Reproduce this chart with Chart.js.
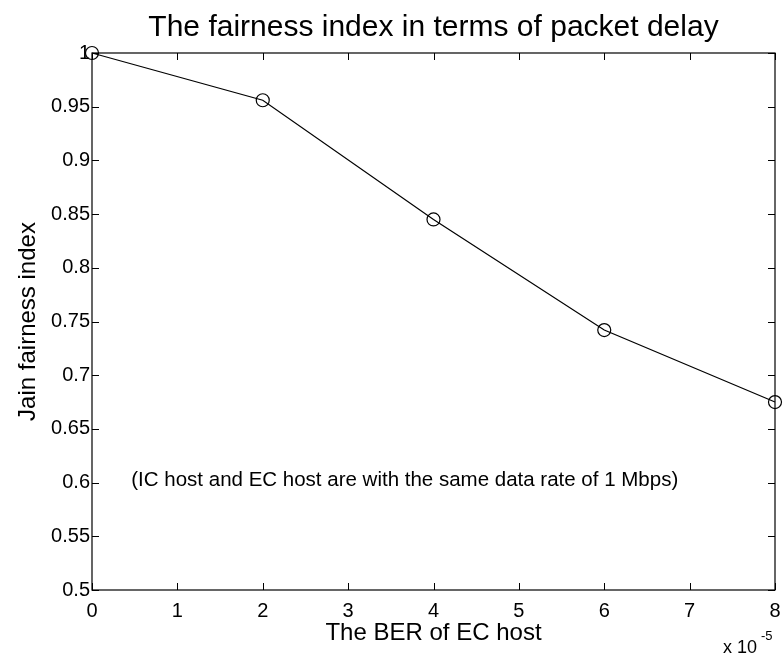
<!DOCTYPE html>
<html>
<head>
<meta charset="utf-8">
<script src="https://cdn.jsdelivr.net/npm/chart.js@4.4.1/dist/chart.umd.min.js"></script>
<style>
  html, body { margin: 0; padding: 0; background: #fff; }
  canvas { display: block; }
</style>
</head>
<body>
<canvas id="chart" width="783" height="655"></canvas>
<script>
// data
const berValues = [0, 2, 4, 6, 8];               // x 10^-5
const fairness = [1.0, 0.956, 0.845, 0.742, 0.675];

const xTicks = [0, 1, 2, 3, 4, 5, 6, 7, 8];
const yTicks = [0.5, 0.55, 0.6, 0.65, 0.7, 0.75, 0.8, 0.85, 0.9, 0.95, 1];

const FONT = '"Liberation Sans", Arial, Helvetica, sans-serif';
Chart.defaults.font.family = FONT;
Chart.defaults.color = '#000';

// box round the plot with inward ticks on all four sides (matlab style)
const frameTicks = {
    id: 'frameTicks',
    beforeDatasetsDraw(chart) {
        const { ctx, chartArea: a, scales: { x, y } } = chart;
        const len = 7;
        ctx.save();
        ctx.strokeStyle = '#000';
        ctx.lineWidth = 1.2;
        ctx.strokeRect(a.left, a.top, a.right - a.left, a.bottom - a.top);
        ctx.lineWidth = 1;
        ctx.beginPath();
        xTicks.forEach(v => {
            const px = Math.round(x.getPixelForValue(v)) + 0.5;
            ctx.moveTo(px, a.bottom); ctx.lineTo(px, a.bottom - len);
            ctx.moveTo(px, a.top); ctx.lineTo(px, a.top + len);
        });
        yTicks.forEach(v => {
            const py = Math.round(y.getPixelForValue(v)) + 0.5;
            ctx.moveTo(a.left, py); ctx.lineTo(a.left + len, py);
            ctx.moveTo(a.right, py); ctx.lineTo(a.right - len, py);
        });
        ctx.stroke();
        ctx.restore();
    }
};

// note inside the axes and the x-axis multiplier
const notes = {
    id: 'notes',
    afterDraw(chart) {
        const { ctx, scales: { x, y } } = chart;
        ctx.save();
        ctx.fillStyle = '#000';
        ctx.font = '20.5px ' + FONT;
        ctx.textAlign = 'left';
        ctx.textBaseline = 'middle';
        ctx.fillText('(IC host and EC host are with the same data rate of 1 Mbps)',
            x.getPixelForValue(0.46), y.getPixelForValue(0.602));

        ctx.textBaseline = 'alphabetic';
        ctx.font = '18px ' + FONT;
        ctx.fillText('x 10', 723, 653);
        ctx.font = '13px ' + FONT;
        ctx.fillText('-5', 761, 640);
        ctx.restore();
    }
};

new Chart(document.getElementById('chart'), {
    type: 'line',
    data: {
        datasets: [{
            data: berValues.map((b, i) => ({ x: b, y: fairness[i] })),
            borderColor: '#000',
            borderWidth: 1.2,
            backgroundColor: 'transparent',
            pointStyle: 'circle',
            pointRadius: 6.5,
            pointHoverRadius: 6.5,
            pointBorderWidth: 1.2,
            pointBorderColor: '#000',
            pointBackgroundColor: 'transparent',
            tension: 0,
            clip: false
        }]
    },
    options: {
        responsive: false,
        animation: false,
        events: [],
        layout: { padding: { left: 0, right: 8, top: 0, bottom: 0 } },
        plugins: {
            legend: { display: false },
            tooltip: { enabled: false },
            title: {
                display: true,
                fullSize: false,
                text: 'The fairness index in terms of packet delay',
                font: { size: 30, weight: 'normal' },
                color: '#000',
                padding: { top: 10, bottom: 7 }
            }
        },
        scales: {
            x: {
                type: 'linear',
                min: 0,
                max: 8,
                afterBuildTicks: s => { s.ticks = xTicks.map(v => ({ value: v })); },
                afterFit: s => { s.height = 65; s.paddingLeft = 0; s.paddingRight = 0; },
                grid: { display: false, drawTicks: false },
                border: { display: false },
                ticks: { font: { size: 20 }, padding: 9, maxRotation: 0, callback: v => String(v) },
                title: {
                    display: true,
                    text: 'The BER of EC host',
                    font: { size: 24 },
                    padding: { top: 0, bottom: 7 }
                }
            },
            y: {
                type: 'linear',
                min: 0.5,
                max: 1,
                afterBuildTicks: s => { s.ticks = yTicks.map(v => ({ value: v })); },
                afterFit: s => { s.width = 92; },
                grid: { display: false, drawTicks: false },
                border: { display: false },
                ticks: { font: { size: 20 }, padding: 2, callback: v => String(+v.toFixed(2)) },
                title: {
                    display: true,
                    text: 'Jain fairness index',
                    font: { size: 24 },
                    padding: { top: 14, bottom: 0 }
                }
            }
        }
    },
    plugins: [frameTicks, notes]
});
</script>
</body>
</html>
